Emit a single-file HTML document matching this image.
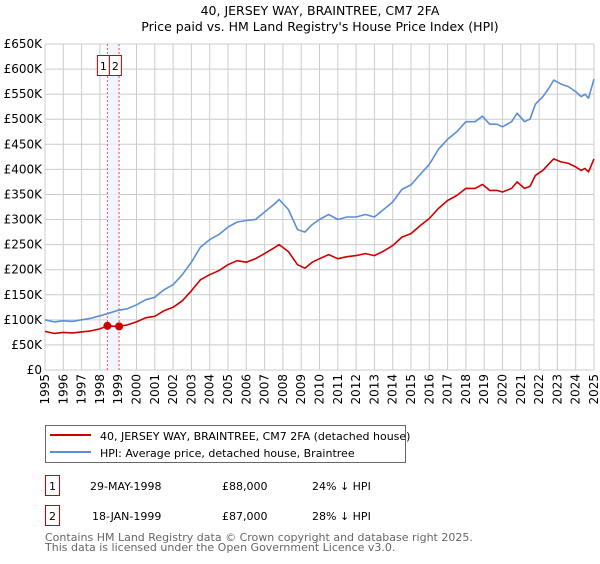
<!DOCTYPE html>
<html><head><meta charset="utf-8">
<style>
body{margin:0;background:#fff;font-family:"DejaVu Sans","Liberation Sans",sans-serif;}
svg text{font-family:"DejaVu Sans","Liberation Sans",sans-serif;}
</style></head>
<body>
<svg id="chart" width="600" height="560" xmlns="http://www.w3.org/2000/svg">
<text x="320" y="15" text-anchor="middle" font-size="12.5" fill="#000">40, JERSEY WAY, BRAINTREE, CM7 2FA</text>
<text x="320" y="31" text-anchor="middle" font-size="12.5" fill="#000">Price paid vs. HM Land Registry's House Price Index (HPI)</text>
<g id="grid"></g>
<g id="marks"></g>
<g id="legend">
<rect x="45.5" y="425.5" width="360" height="37" fill="#fff" stroke="#666"/>
<line x1="50" y1="435" x2="91" y2="435" stroke="#cc0000" stroke-width="2"/>
<text x="100" y="440" font-size="11">40, JERSEY WAY, BRAINTREE, CM7 2FA (detached house)</text>
<line x1="50" y1="452" x2="91" y2="452" stroke="#5b8fd4" stroke-width="2"/>
<text x="100" y="457" font-size="11">HPI: Average price, detached house, Braintree</text>
</g>
<g font-size="11">
<rect x="45.5" y="475.5" width="14" height="20" fill="none" stroke="#cc0000"/>
<text x="52.5" y="490" text-anchor="middle">1</text>
<text x="90" y="490">29-MAY-1998</text>
<text x="222" y="490">£88,000</text>
<text x="312" y="490">24% ↓ HPI</text>
<rect x="45.5" y="505.5" width="14" height="20" fill="none" stroke="#cc0000"/>
<text x="52.5" y="520" text-anchor="middle">2</text>
<text x="92" y="520">18-JAN-1999</text>
<text x="222" y="520">£87,000</text>
<text x="312" y="520">28% ↓ HPI</text>
</g>
<text x="45" y="541" font-size="11" fill="#666">Contains HM Land Registry data © Crown copyright and database right 2025.</text>
<text x="45" y="551" font-size="11" fill="#666">This data is licensed under the Open Government Licence v3.0.</text>
</svg>
<script>
const hpiYears=[1995,1995.5,1996,1996.5,1997,1997.5,1998,1998.4,1999,1999.5,2000,2000.5,2001,2001.5,2002,2002.5,2003,2003.5,2004,2004.5,2005,2005.5,2006,2006.5,2007,2007.5,2007.8,2008.3,2008.8,2009.2,2009.6,2010,2010.5,2011,2011.5,2012,2012.5,2013,2013.5,2014,2014.5,2015,2015.5,2016,2016.5,2017,2017.5,2018,2018.5,2018.9,2019.3,2019.7,2020,2020.5,2020.8,2021.2,2021.5,2021.8,2022.2,2022.5,2022.8,2023.2,2023.6,2024,2024.3,2024.5,2024.7,2025];
const hpiValues=[100,96,98,97,100,103,108,112,119,122,130,140,145,160,170,190,215,245,260,270,285,295,298,300,315,330,340,320,280,275,290,300,310,300,305,305,310,305,320,335,360,369,390,410,440,460,475,495,495,506,490,490,485,495,512,495,500,530,545,560,578,570,565,555,545,550,542,580];
const propValues=[77,73,75,74,76,78,82,88,87,90,96,104,107,118,125,138,158,180,190,198,210,218,215,222,232,243,250,236,210,203,215,222,230,222,226,228,232,228,237,248,265,272,288,302,322,338,348,362,362,370,358,358,355,362,375,362,366,388,398,410,421,415,412,405,398,402,395,421];
const saleYears=[1998.41,1999.05];
const salePrices=[88,87];
const saleLabels=["1","2"];
const yTicks=[0,50,100,150,200,250,300,350,400,450,500,550,600,650];
const yTickLabels=["£0","£50K","£100K","£150K","£200K","£250K","£300K","£350K","£400K","£450K","£500K","£550K","£600K","£650K"];
const xTicks=[1995,1996,1997,1998,1999,2000,2001,2002,2003,2004,2005,2006,2007,2008,2009,2010,2011,2012,2013,2014,2015,2016,2017,2018,2019,2020,2021,2022,2023,2024,2025];

const NS="http://www.w3.org/2000/svg";
const X0=45,X1=594,Y0=370,Y1=44;
const xs=y=>X0+(y-1995)/30*(X1-X0);
const ys=v=>Y0-v/650*(Y0-Y1);
function mk(tag,at,parent){const e=document.createElementNS(NS,tag);for(const k in at)e.setAttribute(k,at[k]);parent.appendChild(e);return e;}
const grid=document.getElementById('grid'),marks=document.getElementById('marks');
yTicks.forEach((t,i)=>{
  const l=mk('line',{x1:X0,x2:X1,y1:ys(t),y2:ys(t),stroke:'#cccccc','stroke-width':1},grid);
  
  
  const tx=mk('text',{x:X0-3,y:ys(t)+4,'text-anchor':'end','font-size':'12'},grid);
  tx.textContent=yTickLabels[i];
  
  
});
xTicks.forEach(t=>{
  const l=mk('line',{x1:xs(t),x2:xs(t),y1:Y1,y2:Y0,stroke:'#cccccc','stroke-width':1},grid);
  
  
  const x=xs(t)+4,y=Y0+4;
  const tx=mk('text',{x:x,y:y,'text-anchor':'end','font-size':'12',transform:'rotate(-90 '+x+' '+y+')'},grid);
  tx.textContent=String(t);
  
  
});
const band=mk('rect',{x:xs(saleYears[0]),y:Y1,width:xs(saleYears[1])-xs(saleYears[0]),height:Y0-Y1,fill:'#eef3fc',opacity:0.8},marks);


saleYears.forEach((s,i)=>{
  const l=mk('line',{x1:xs(s),x2:xs(s),y1:Y1,y2:Y0,stroke:'#ee5555','stroke-width':1,'stroke-dasharray':'2,2'},marks);
  
  
});
function path(vals,color,name){
  const d=hpiYears.map((y,i)=>(i?'L':'M')+xs(y).toFixed(1)+','+ys(vals[i]).toFixed(1)).join('');
  const p=mk('path',{d:d,fill:'none',stroke:color,'stroke-width':1.6,'stroke-linejoin':'round'},marks);
  
  
}
path(hpiValues,'#5b8fd4','hpi-line');
path(propValues,'#cc0000','property-price-line');
const boxStart=xs(saleYears[0])-10;
saleYears.forEach((s,i)=>{
  const c=mk('circle',{cx:xs(s),cy:ys(salePrices[i]),r:4,fill:'#cc0000'},marks);
  
  
  const bx=boxStart+i*12;
  const r=mk('rect',{x:bx,y:55.5,width:12,height:20,fill:'#fff',stroke:'#cc0000'},marks);
  
  
  const t=mk('text',{x:bx+6,y:70,'text-anchor':'middle','font-size':'11'},marks);
  t.textContent=saleLabels[i];
  
  
});
</script>
</body></html>
